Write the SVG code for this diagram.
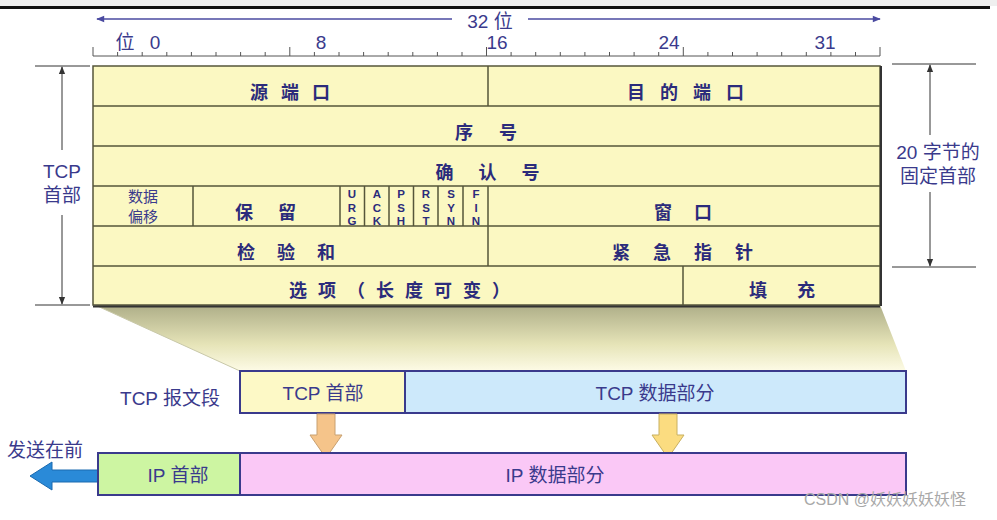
<svg xmlns="http://www.w3.org/2000/svg" width="997" height="520" viewBox="0 0 997 520">
<defs>
<style>
.tb{font-family:"Noto Sans CJK SC","Liberation Sans",sans-serif;fill:#2b2b7b;font-weight:bold;font-size:18px;text-anchor:middle}
.sm{font-family:"Noto Sans CJK SC","Liberation Sans",sans-serif;fill:#3a3a8c;font-size:15px;text-anchor:middle}
.f{font-family:"Liberation Sans",sans-serif;fill:#2b2b7b;font-weight:bold;font-size:11.5px;text-anchor:middle}
.lbl{font-family:"Liberation Sans","Noto Sans CJK SC",sans-serif;fill:#3a3a8c;font-size:19px;text-anchor:middle}
.cell{fill:#fbf8c2;stroke:#55553a;stroke-width:1.5}
.grid{stroke:#55553a;stroke-width:1.5;fill:none}
.dim{stroke:#333;stroke-width:1;fill:none}
.bar{stroke:#3a3a8c;stroke-width:2}
</style>
<marker id="ah" viewBox="0 0 10 10" refX="9" refY="5" markerWidth="8" markerHeight="8" orient="auto-start-reverse" markerUnits="userSpaceOnUse">
<path d="M0,1 L10,5 L0,9 Z" fill="#333"/>
</marker>
<marker id="ahb" viewBox="0 0 10 10" refX="9" refY="5" markerWidth="9" markerHeight="8" orient="auto-start-reverse" markerUnits="userSpaceOnUse">
<path d="M0,1 L10,5 L0,9 Z" fill="#4a4aa0"/>
</marker>
<linearGradient id="trap" x1="0" y1="0" x2="0" y2="1">
<stop offset="0" stop-color="#aeae88"/>
<stop offset="0.6" stop-color="#e6e4b8"/>
<stop offset="1" stop-color="#fdfbe6"/>
</linearGradient>
</defs>
<rect x="0" y="0" width="997" height="6" fill="#efefef"/>
<line x1="0" y1="7.5" x2="990" y2="7.5" stroke="#111" stroke-width="3"/>

<g id="ruler">
<line x1="97" y1="19" x2="452" y2="19" stroke="#4a4aa0" stroke-width="1.5" marker-start="url(#ahb)"/>
<line x1="528" y1="19" x2="880" y2="19" stroke="#4a4aa0" stroke-width="1.5" marker-end="url(#ahb)"/>
<text x="490" y="28" class="lbl" font-size="22">32 位</text>
<line x1="93" y1="56" x2="880" y2="56" stroke="#555" stroke-width="1"/>
<path stroke="#555" stroke-width="1" d="M93,47V56 M117.6,52V56 M142.2,52V56 M166.8,52V56 M191.4,52V56 M216,52V56 M240.6,52V56 M265.2,52V56 M289.8,47V56 M314.4,52V56 M339,52V56 M363.6,52V56 M388.2,52V56 M412.8,52V56 M437.4,52V56 M462,52V56 M486.5,47V56 M511.1,52V56 M535.7,52V56 M560.3,52V56 M584.9,52V56 M609.5,52V56 M634.1,52V56 M658.7,52V56 M683.3,47V56 M707.9,52V56 M732.5,52V56 M757.1,52V56 M781.7,52V56 M806.3,52V56 M830.9,52V56 M855.5,52V56 M880,47V56"/>
<text x="125" y="49" class="lbl" font-size="18">位</text>
<text x="155" y="49" class="lbl" font-size="18">0</text>
<text x="321" y="49" class="lbl" font-size="18">8</text>
<text x="497" y="49" class="lbl" font-size="18">16</text>
<text x="669" y="49" class="lbl" font-size="18">24</text>
<text x="825" y="49" class="lbl" font-size="18">31</text>
</g>

<g id="trapezoid">
<polygon points="95,305 880,305 906,371 240,371" fill="url(#trap)"/>
<line x1="95" y1="305" x2="240" y2="371" stroke="#c8c8a8" stroke-width="1"/>
</g>

<g id="tcp-header">
<rect x="93" y="66" width="787" height="239" class="cell" stroke-width="2.5"/>
<path class="grid" d="M93,106H880 M93,146H880 M93,186H880 M93,226H880 M93,266H880 M488,66V106 M193,186V226 M340,186V226 M364.5,186V226 M389,186V226 M413.5,186V226 M438,186V226 M463,186V226 M488,186V266 M683,266V305"/>
<line x1="93" y1="306.5" x2="880" y2="306.5" stroke="#333" stroke-width="2"/>
<line x1="881" y1="66" x2="881" y2="306" stroke="#333" stroke-width="2"/>
</g>

<g id="f-src"><text x="296.5" y="99" class="tb" letter-spacing="13">源端口</text></g>
<g id="f-dst"><text x="693" y="99" class="tb" letter-spacing="15">目的端口</text></g>
<g id="f-seq"><text x="499" y="139" class="tb" letter-spacing="26">序号</text></g>
<g id="f-ack"><text x="500" y="179" class="tb" letter-spacing="25">确认号</text></g>
<g id="f-off"><text x="143" y="202" class="sm">数据</text><text x="143" y="222" class="sm">偏移</text></g>
<g id="f-rsv"><text x="278" y="219" class="tb" letter-spacing="25">保留</text></g>
<g id="f-flags">
<text x="352" y="198" class="f">U</text><text x="352" y="211.5" class="f">R</text><text x="352" y="225" class="f">G</text>
<text x="377" y="198" class="f">A</text><text x="377" y="211.5" class="f">C</text><text x="377" y="225" class="f">K</text>
<text x="401" y="198" class="f">P</text><text x="401" y="211.5" class="f">S</text><text x="401" y="225" class="f">H</text>
<text x="426" y="198" class="f">R</text><text x="426" y="211.5" class="f">S</text><text x="426" y="225" class="f">T</text>
<text x="451" y="198" class="f">S</text><text x="451" y="211.5" class="f">Y</text><text x="451" y="225" class="f">N</text>
<text x="476" y="198" class="f">F</text><text x="476" y="211.5" class="f">I</text><text x="476" y="225" class="f">N</text>
</g>
<g id="f-win"><text x="694" y="219" class="tb" letter-spacing="22">窗口</text></g>
<g id="f-chk"><text x="297" y="259" class="tb" letter-spacing="22">检验和</text></g>
<g id="f-urg"><text x="694" y="259" class="tb" letter-spacing="23">紧急指针</text></g>
<g id="f-opt"><text x="405" y="297" class="tb" letter-spacing="11">选项（长度可变）</text></g>
<g id="f-pad"><text x="797" y="297" class="tb" letter-spacing="30">填充</text></g>

<g id="dim-left">
<line x1="35" y1="66" x2="90" y2="66" class="dim"/>
<line x1="35" y1="305" x2="90" y2="305" class="dim"/>
<line x1="62" y1="150" x2="62" y2="67" class="dim" marker-end="url(#ah)"/>
<line x1="62" y1="215" x2="62" y2="304" class="dim" marker-end="url(#ah)"/>
<text x="62" y="178" class="lbl">TCP</text>
<text x="62" y="202" class="lbl">首部</text>
</g>

<g id="dim-right">
<line x1="892" y1="64" x2="976" y2="64" class="dim"/>
<line x1="892" y1="267" x2="976" y2="267" class="dim"/>
<line x1="930" y1="135" x2="930" y2="65" class="dim" marker-end="url(#ah)"/>
<line x1="930" y1="192" x2="930" y2="266" class="dim" marker-end="url(#ah)"/>
<text x="938" y="159" class="lbl">20 字节的</text>
<text x="938" y="183" class="lbl">固定首部</text>
</g>

<g id="tcp-segment">
<text x="170" y="405" class="lbl" font-size="21">TCP 报文段</text>
<rect x="240" y="371" width="165" height="42" fill="#fdf9c6" class="bar"/>
<rect x="405" y="371" width="501" height="42" fill="#cde9fb" class="bar"/>
<text x="323" y="400" class="lbl">TCP 首部</text>
<text x="655" y="400" class="lbl">TCP 数据部分</text>
</g>

<g id="connectors">
<polygon points="317,414 335,414 335,435 342,435 326,458 310,435 317,435" fill="#f5c48a" stroke="#c8a070" stroke-width="1"/>
<polygon points="659,414 677,414 677,435 684,435 668,458 652,435 659,435" fill="#fbdc80" stroke="#c8b060" stroke-width="1"/>
<polygon points="98,470 52,470 52,462 30,476 52,490 52,482 98,482" fill="#2a8ad8" stroke="#1a6ab0" stroke-width="1"/>
</g>

<g id="ip-datagram">
<text x="45" y="457" class="lbl" font-size="20">发送在前</text>
<rect x="98" y="453" width="142" height="42" fill="#cdf5a2" class="bar"/>
<rect x="240" y="453" width="666" height="42" fill="#fac8f6" class="bar"/>
<text x="178" y="482" class="lbl">IP 首部</text>
<text x="555" y="482" class="lbl">IP 数据部分</text>
</g>

<text x="885" y="505" font-family="Liberation Sans,Noto Sans CJK SC,sans-serif" font-size="16" fill="#a8a8a8" text-anchor="middle">CSDN @妖妖妖妖妖怪</text>
</svg>
